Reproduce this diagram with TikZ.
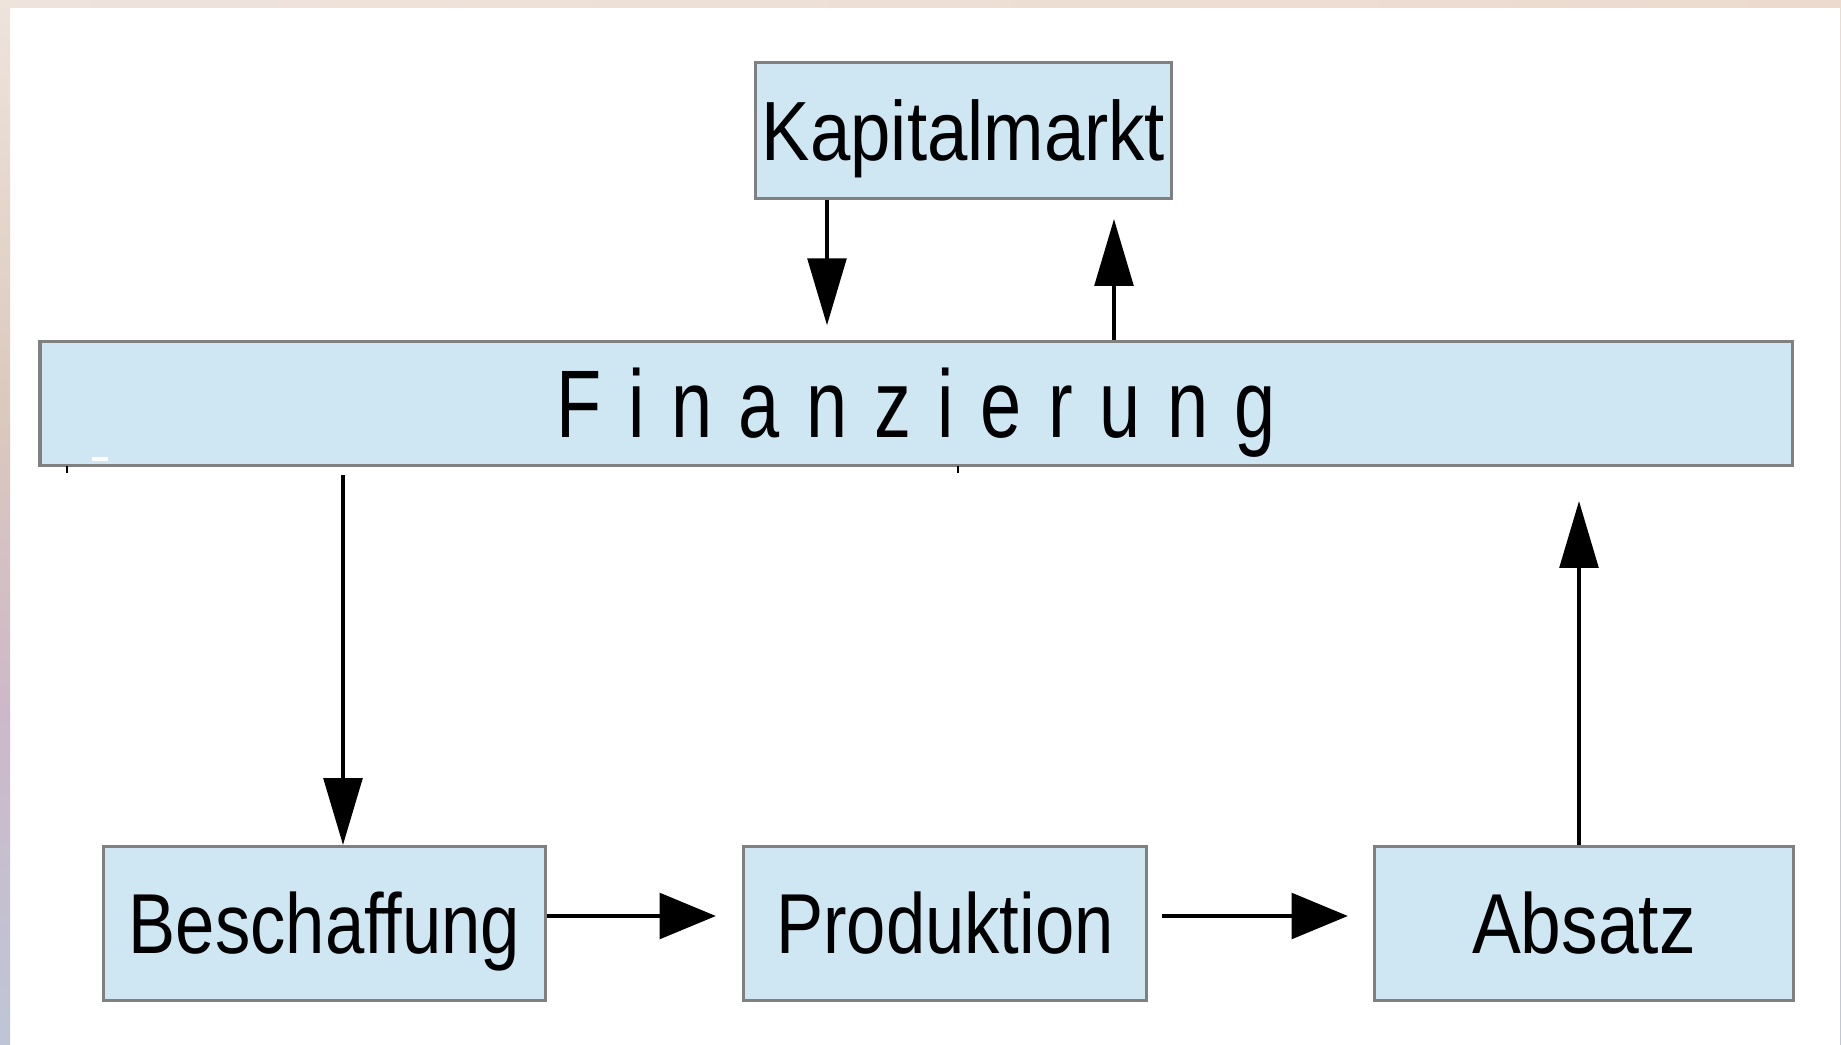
\documentclass[tikz,border=0pt]{standalone}
\usepackage{fontspec}
\setmainfont{Liberation Sans}
\usetikzlibrary{arrows.meta}
\definecolor{boxfill}{RGB}{207,230,243}
\definecolor{boxline}{RGB}{128,128,128}
\definecolor{bgA}{RGB}{238,228,220}
\definecolor{bgB}{RGB}{220,201,189}
\definecolor{bgC}{RGB}{205,184,201}
\definecolor{bgD}{RGB}{190,198,213}
\definecolor{bgTopR}{RGB}{236,218,206}
\begin{document}
\begin{tikzpicture}[x=0.01cm,y=-0.01cm,
  box/.style={draw=boxline, fill=boxfill, line width=1pt, inner sep=0pt, text depth=0pt},
  lbl/.style={font=\fontsize{24.2}{28}\selectfont, text height=17.3pt},
  arrv/.style={line width=1pt, -{Triangle[length=19pt,width=11pt]}},
  arrh/.style={line width=1pt, -{Triangle[length=16pt,width=13pt]}}]
\useasboundingbox (0,0) rectangle (1841,1045);
\fill[white] (0,0) rectangle (1841,1045);
% frame strips
\shade[left color=bgA, right color=bgTopR] (0,0) rectangle (1841,7);
\shade[top color=bgA, bottom color=bgB] (0,0) rectangle (10,400);
\shade[top color=bgB, bottom color=bgC] (0,399) rectangle (10,713);
\shade[top color=bgC, bottom color=bgD] (0,712) rectangle (10,1045);
\shade[top color=bgTopR, bottom color=bgD] (1840,0) rectangle (1841,1045);

% boxes
\node[box, minimum width=4.155cm, minimum height=1.355cm,
      font=\fontsize{23.9}{28}\selectfont, text height=17.1pt]
  (kap) at (963.5,130.5) {\scalebox{0.863}[1]{Kapitalmarkt}};
\node[box, minimum width=17.515cm, minimum height=1.235cm,
      font=\fontsize{27.3}{30}\selectfont, text height=19.6pt]
  (fin) at (916.3,403.5) {\scalebox{0.77}[1]{F\hskip9.8pt i\hskip9.8pt n\hskip9.8pt a\hskip9.8pt n\hskip9.8pt z\hskip9.8pt i\hskip9.8pt e\hskip9.8pt r\hskip9.8pt u\hskip9.8pt n\hskip9.8pt g}};
\node[box, lbl, minimum width=4.415cm, minimum height=1.535cm]
  (bes) at (324.5,923.5) {\scalebox{0.83}[1]{Beschaffung}};
\node[box, lbl, minimum width=4.025cm, minimum height=1.535cm]
  (pro) at (945,923.5) {\scalebox{0.83}[1]{Produktion}};
\node[box, lbl, minimum width=4.185cm, minimum height=1.535cm]
  (abs) at (1584,923.5) {\scalebox{0.86}[1]{Absatz}};

% small artefacts
\draw[line width=0.4pt] (67,466) -- (67,473);
\draw[line width=0.4pt] (958,466) -- (958,473);
\fill[white] (92,457) rectangle (108,461);

% connectors
\draw[arrv, shorten >=0.147cm] (kap.south -| 827,0) -- (fin.north -| 827,0);
\draw[arrv, shorten >=0.19cm] (fin.north -| 1114,0) -- (kap.south -| 1114,0);
\draw[arrv, shorten <=0.077cm] (fin.south -| 343,0) -- (bes.north -| 343,0);
\draw[arrh, shorten >=0.26cm] (bes.east |- 0,916) -- (pro.west |- 0,916);
\draw[arrh, shorten <=0.14cm, shorten >=0.25cm] (pro.east |- 0,916) -- (abs.west |- 0,916);
\draw[arrv, shorten >=0.34cm] (abs.north -| 1579,0) -- (fin.south -| 1579,0);
\end{tikzpicture}
\end{document}
